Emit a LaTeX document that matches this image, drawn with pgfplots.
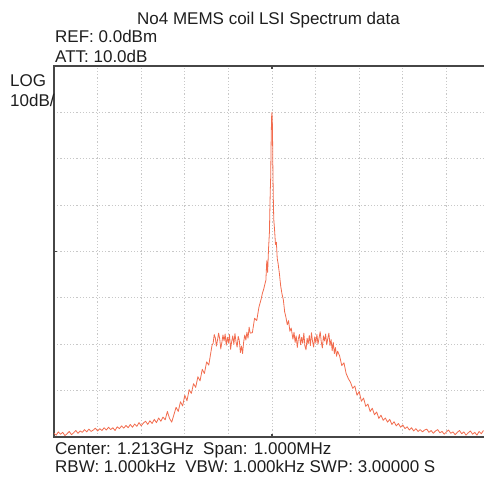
\documentclass[border=0pt]{standalone}
\usepackage{fontspec}
\setmainfont{Liberation Sans}
\usepackage{pgfplots}
\pgfplotsset{compat=1.18}
\definecolor{trace}{RGB}{242,108,78}
\definecolor{gridc}{RGB}{200,200,200}
\definecolor{frame}{RGB}{70,70,70}
\definecolor{txt}{RGB}{30,30,30}

\begin{document}
\begin{tikzpicture}[x=1pt,y=1pt]
\begin{axis}[
  at={(54pt,41pt)}, anchor=south west,
  scale only axis, width=436pt, height=371pt,
  xmin=-500, xmax=500, ymin=-80, ymax=0,
  xtick={-400,-300,...,400}, ytick={-70,-60,...,-10},
  xticklabels={}, yticklabels={},
  major tick length=0pt,
  grid=major,
  major grid style={gridc, dash pattern=on 1.2pt off 2pt, line width=1pt},
  axis line style={frame, line width=1.3pt},
  extra x ticks={0}, extra y ticks={-40},
  extra x tick labels={}, extra y tick labels={},
  extra tick style={grid=none, major tick length=3pt, tick style={frame, line width=1.2pt}},
  clip=true,
]
\addplot[trace, line width=0.8pt, line join=round] coordinates {
(-500,-79.2) (-495,-79.6) (-490,-78.9) (-485,-79.4) (-480,-79.0) (-475,-79.7)
(-470,-79.3) (-465,-78.8) (-460,-79.5) (-455,-79.1) (-450,-78.6) (-445,-79.2)
(-440,-78.7) (-435,-79.0) (-430,-78.4) (-425,-78.9) (-420,-78.3) (-415,-78.8)
(-410,-78.5) (-405,-78.1) (-400,-78.7) (-395,-78.2) (-390,-78.6) (-385,-78.0)
(-380,-78.5) (-375,-77.9) (-370,-78.4) (-365,-78.0) (-360,-78.6) (-355,-77.8)
(-350,-78.2) (-345,-77.6) (-340,-78.1) (-335,-77.5) (-330,-78.0) (-325,-77.3)
(-320,-77.9) (-315,-77.2) (-310,-77.7) (-305,-76.9) (-300,-77.6) (-295,-77.0)
(-290,-76.6) (-285,-77.3) (-280,-76.5) (-275,-77.1) (-270,-76.2) (-265,-76.9)
(-260,-75.9) (-255,-76.6) (-250,-75.7) (-245,-76.3) (-240,-74.5) (-235,-76.0)
(-230,-76.8) (-225,-75.2) (-220,-73.6) (-215,-74.5) (-210,-72.4) (-205,-73.3)
(-200,-71.0) (-195,-72.2) (-190,-69.8) (-185,-70.6) (-180,-68.5) (-175,-69.3)
(-170,-67.0) (-165,-67.9) (-160,-65.4) (-155,-66.3) (-150,-63.8) (-145,-64.5)
(-140,-61.6) (-137.5,-60.2) (-135,-59.8) (-132.5,-57.9) (-130,-58.6) (-127.5,-60.4)
(-125,-59.1) (-122.5,-57.6) (-120,-58.8) (-117.5,-61.0) (-115,-59.6) (-112.5,-58.0)
(-110,-59.3) (-107.5,-57.8) (-105,-60.2) (-102.5,-58.5) (-100,-59.7) (-97.5,-57.9)
(-95,-61.1) (-92.5,-59.4) (-90,-58.2) (-87.5,-60.0) (-85,-57.7) (-82.5,-59.5)
(-80,-60.6) (-77.5,-58.3) (-75,-59.2) (-72.5,-61.8) (-70,-60.4) (-67.5,-62.0)
(-65,-59.5) (-62.5,-58.0) (-60,-59.1) (-57.5,-57.4) (-55,-58.7) (-52.5,-56.3)
(-50,-57.6) (-45,-57.5) (-40,-54.4) (-35,-54.9) (-30,-52.0) (-25,-50.3)
(-22,-49.0) (-19,-48.1) (-16,-46.9) (-14,-46.2) (-12,-42.0) (-10,-44.5)
(-8,-39.5) (-6,-36.0) (-5,-31.5) (-4,-27.0) (-3,-24.0) (-2,-16.5)
(-1,-11.0) (0,-10.0) (1,-13.0) (2,-22.0) (3,-28.5) (4,-33.0)
(6,-35.5) (8,-38.5) (10,-38.0) (12,-41.5) (14,-42.6) (17,-44.8)
(20,-47.5) (23,-49.2) (26,-50.4) (29,-53.0) (32,-54.2) (35,-55.8)
(38,-54.9) (41,-57.2) (44,-56.5) (48,-58.9) (50.5,-57.4) (53,-59.6)
(55.5,-58.2) (58,-60.7) (60.5,-58.8) (63,-57.9) (65.5,-60.1) (68,-58.5)
(70.5,-59.8) (73,-57.6) (75.5,-60.4) (78,-61.2) (80.5,-58.7) (83,-59.9)
(85.5,-58.1) (88,-60.3) (90.5,-57.5) (93,-59.4) (95.5,-60.6) (98,-58.4)
(100.5,-59.7) (103,-57.9) (105.5,-60.0) (108,-58.6) (110.5,-57.3) (113,-59.5)
(115.5,-60.8) (118,-58.2) (120.5,-59.3) (123,-57.8) (125.5,-60.1) (128,-58.7)
(130.5,-57.6) (133,-60.3) (135.5,-59.0) (138,-61.4) (140.5,-59.6) (143,-62.0)
(145.5,-60.7) (148,-62.6) (150.5,-61.5)
(155,-62.5) (160,-64.6) (165,-64.0) (170,-66.3) (175,-67.4)
(180,-68.2) (185,-69.5) (190,-69.0) (195,-71.0) (200,-70.2) (205,-72.3)
(210,-71.6) (215,-73.4) (220,-72.9) (225,-74.5) (230,-73.8) (235,-75.2)
(240,-74.6) (245,-76.0) (250,-75.3) (255,-76.4) (260,-75.9) (265,-76.8)
(270,-76.2) (275,-77.3) (280,-76.7) (285,-77.6) (290,-77.1) (295,-77.9)
(300,-77.4) (305,-78.2) (310,-77.8) (315,-78.5) (320,-78.0) (325,-78.7)
(330,-78.2) (335,-78.8) (340,-78.4) (345,-78.9) (350,-78.5) (355,-78.3)
(360,-79.0) (365,-78.6) (370,-79.2) (375,-78.7) (380,-78.4) (385,-79.1)
(390,-78.8) (395,-79.4) (400,-78.9) (405,-78.5) (410,-79.2) (415,-78.9)
(420,-79.5) (425,-79.0) (430,-78.6) (435,-79.3) (440,-78.9) (445,-79.6)
(450,-79.1) (455,-78.7) (460,-79.4) (465,-79.0) (470,-79.6) (475,-78.8)
(480,-79.3) (485,-78.6)
};
\end{axis}
\fontsize{17}{20}\selectfont\color{txt}
\node[anchor=base] at (268.5,453) {No4 MEMS coil LSI Spectrum data};
\node[anchor=base west, inner sep=0pt] at (55,435) {REF: 0.0dBm};
\node[anchor=base west, inner sep=0pt] at (55,415) {ATT: 10.0dB};
\node[anchor=base west, inner sep=0pt] at (10,391) {LOG};
\node[anchor=base west, inner sep=0pt] at (10,371) {10dB/};
\node[anchor=base west, inner sep=0pt] at (55,23) {Center: 1.213GHz~ Span: 1.000MHz};
\node[anchor=base west, inner sep=0pt] at (55,5) {RBW: 1.000kHz~ VBW: 1.000kHz SWP: 3.00000 S};
\pgfresetboundingbox
\path[use as bounding box] (0,0) rectangle (484,478);
\end{tikzpicture}
\end{document}
